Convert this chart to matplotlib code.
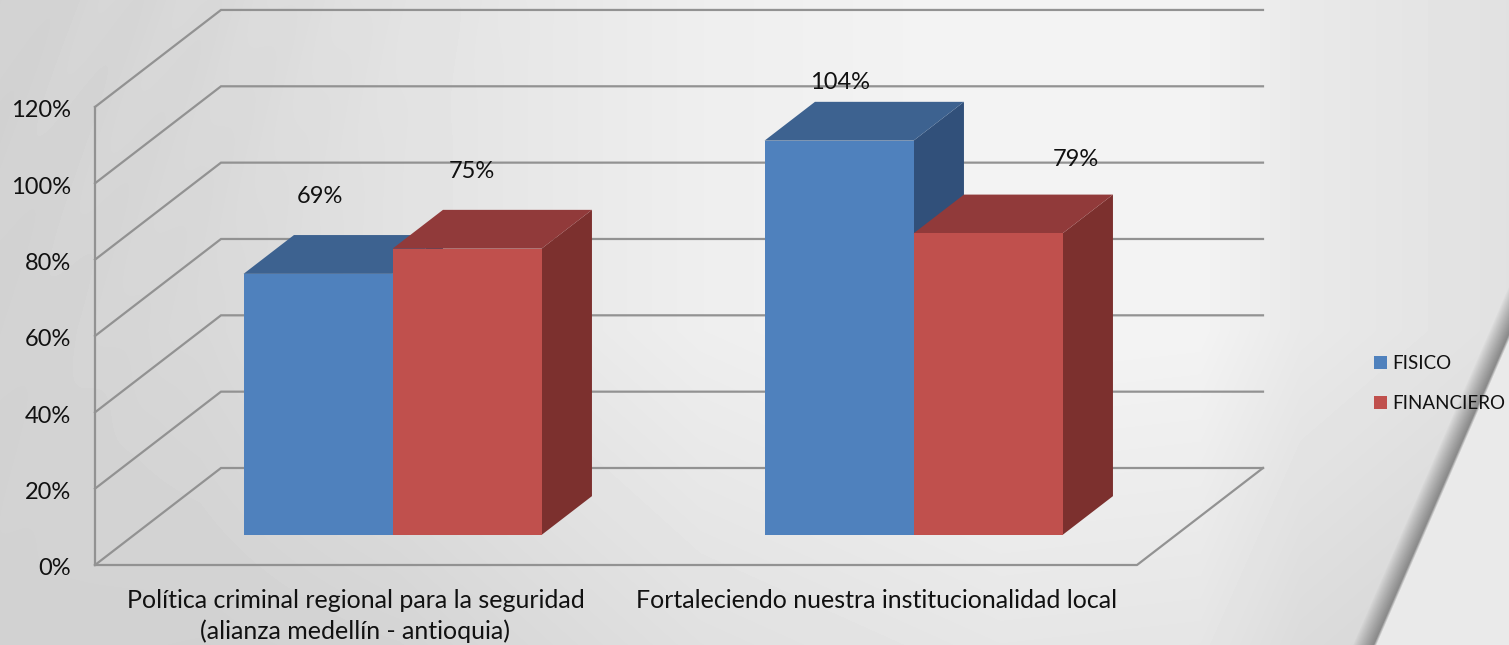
import numpy as np
import matplotlib
matplotlib.use('Agg')
import matplotlib.pyplot as plt
from matplotlib.patches import Patch

plt.rcParams['font.family'] = ['Lato', 'DejaVu Sans']

categories = ['Política criminal regional para la seguridad\n(alianza medellín - antioquia)',
              'Fortaleciendo nuestra institucionalidad local']
# heights as drawn in the picture, the printed labels round them up
fisico = [68.4, 103.3]
financiero = [75, 79]
fisico_labels = ['69%', '104%']
financiero_labels = ['75%', '79%']
yticks = [0, 20, 40, 60, 80, 100, 120]

W, H = 1509, 645
fig = plt.figure(figsize=(W / 100, H / 100), dpi=100)
ax = fig.add_axes([0, 0, 1, 1])

# one category is 521 px wide, 1% is 3.817 px
px_x = 521.0
px_y = 3.817
ax.set_xlim(-355.5 / px_x, (W - 355.5) / px_x)
ax.set_ylim(-(H - 565) / px_y, 565 / px_y)
ax.axis('off')

# depth of the 3d box, in data units
DX = 126 / px_x
DY = 97 / px_y


def proj(x, v, d):
    return x + d * DX, v + d * DY


# background
yy, xx = np.mgrid[0:H, 0:W]
g = np.interp(xx, [0, 200, 400, 700, 1000, 1200, 1300, 1509], [210, 216, 226, 238, 244, 243, 233, 225])
g = g - 14 * np.clip((yy - 330) / 315, 0, 1) * np.clip(xx / 400, 0, 1)
g = g + 1.5 * np.sin((xx + 0.5 * yy) / 13) * np.clip(1 - (xx + yy) / 600, 0, 1)
edge = 1374 + 0.435 * (H - yy)
dist = xx - edge
band = np.clip((dist + 22) / 20, 0, 1) ** 0.9
fade = np.clip((dist + 1) / 3, 0, 1)
g = g * (1 - band) + 140 * band
g = g * (1 - fade) + 234 * fade
ax.imshow(g, cmap='gray', vmin=0, vmax=255, aspect='auto', zorder=0,
          extent=ax.get_xlim() + ax.get_ylim(), origin='upper', interpolation='bilinear')

grid_c = '#929292'
lw = 1.6
x_left = -0.5
x_right = 1.5
for t in yticks:
    xs = [x_left, proj(x_left, t, 1)[0], proj(x_right, t, 1)[0]]
    ys = [t, t + DY, t + DY]
    ax.plot(xs, ys, color=grid_c, lw=lw, zorder=1, solid_joinstyle='miter')
ax.plot([x_left, x_left], [0, 120], color=grid_c, lw=lw, zorder=1)
ax.plot([x_left, x_right, x_right + DX], [0, 0, DY], color=grid_c, lw=lw, zorder=1)

for t in yticks:
    ax.text(x_left - 24 / px_x, t - 1.0, '%d%%' % t, ha='right', va='center', fontsize=17,
            color='#111111', zorder=5)

bar_w = 149 / px_x
d0 = 0.31
d1 = 0.71
shift = -2 / px_x


def bar3d(x0, v, front, top, side, z):
    x1 = x0 + bar_w
    pts = [proj(x0, 0, d0), proj(x1, 0, d0), proj(x1, v, d0), proj(x0, v, d0)]
    ax.fill(*zip(*pts), color=front, lw=0, zorder=z + 0.2)
    pts = [proj(x0, v, d0), proj(x1, v, d0), proj(x1, v, d1), proj(x0, v, d1)]
    ax.fill(*zip(*pts), color=top, lw=0, zorder=z + 0.1)
    pts = [proj(x1, 0, d0), proj(x1, 0, d1), proj(x1, v, d1), proj(x1, v, d0)]
    ax.fill(*zip(*pts), color=side, lw=0, zorder=z)


# label offsets from the front top centre of each bar, px
off_a = [(2, 77), (1, 58)]
off_b = [(5, 77), (88, 74)]
for i in range(len(categories)):
    xa = i - bar_w + shift
    xb = i + shift
    bar3d(xa, fisico[i], '#4f81bd', '#3d6290', '#31507a', 2)
    bar3d(xb, financiero[i], '#c0504d', '#913a3a', '#7c302e', 3)
    pa = proj(xa + bar_w / 2, fisico[i], d0)
    pb = proj(xb + bar_w / 2, financiero[i], d0)
    ax.annotate(fisico_labels[i], pa, xytext=(off_a[i][0] * 0.72, off_a[i][1] * 0.72),
                textcoords='offset points', ha='center', va='center', fontsize=17,
                color='#111111', zorder=6)
    ax.annotate(financiero_labels[i], pb, xytext=(off_b[i][0] * 0.72, off_b[i][1] * 0.72),
                textcoords='offset points', ha='center', va='center', fontsize=17,
                color='#111111', zorder=6)
    ax.text(i, -24 / px_y, categories[i], ha='center', va='top', fontsize=18,
            color='#111111', linespacing=1.38, zorder=6)

handles = [Patch(color='#4f81bd', lw=0), Patch(color='#c0504d', lw=0)]
ax.legend(handles, ['FISICO', 'FINANCIERO'], loc='center left', frameon=False,
          bbox_to_anchor=(1357 / W, 1 - 383.5 / H), fontsize=13.5, handlelength=0.7, handleheight=0.7,
          handletextpad=0.3, labelspacing=1.2, labelcolor='#111111')

fig.savefig('out.png', dpi=100)
